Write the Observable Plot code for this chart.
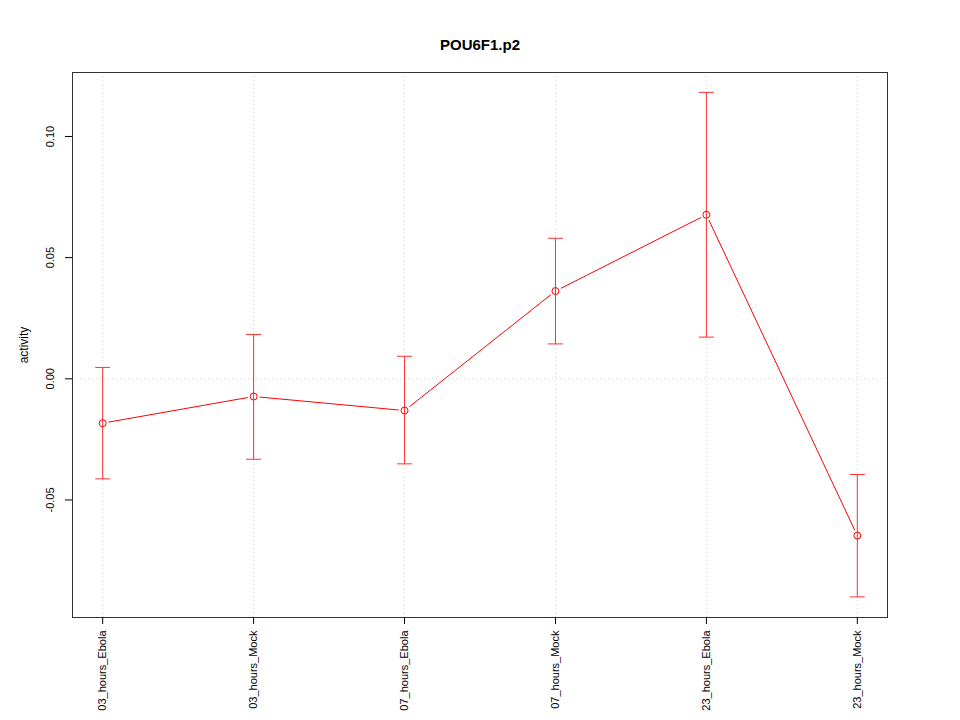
<!DOCTYPE html>
<html><head><meta charset="utf-8">
<script src="https://cdn.jsdelivr.net/npm/d3@7"></script>
<script src="https://cdn.jsdelivr.net/npm/@observablehq/plot@0.6"></script>
<style>body{margin:0;background:#fff}</style>
</head><body><div id="chart"></div>
<script>
const categories = ["03_hours_Ebola", "03_hours_Mock", "07_hours_Ebola", "07_hours_Mock", "23_hours_Ebola", "23_hours_Mock"];
const activity = [-0.0183, -0.0073, -0.0131, 0.0362, 0.0677, -0.0647];
const upper = [0.0047, 0.0183, 0.0093, 0.0580, 0.1182, -0.0395];
const lower = [-0.0413, -0.0332, -0.0351, 0.0144, 0.0172, -0.0900];
const yTicks = [-0.05, 0.00, 0.05, 0.10];
const title = "POU6F1.p2";
const yLabel = "activity";

const data = categories.map((c, i) => ({cat: c, y: activity[i], lo: lower[i], hi: upper[i]}));
const capSymbol = {draw(ctx) { ctx.moveTo(-7.5, 0); ctx.lineTo(7.5, 0); }};
const fmt = d => d.toFixed(2);

const chart = Plot.plot({
  width: 960, height: 720,
  marginLeft: 72, marginRight: 73, marginTop: 72, marginBottom: 103,
  style: {fontFamily: "'Liberation Sans', Arial, sans-serif", fontSize: "12px", background: "white", color: "black"},
  x: {type: "point", domain: categories, padding: 0.2, round: false, label: null},
  y: {domain: [-0.0985, 0.1264], label: null},
  marks: [
    Plot.ruleX(categories, {x: d => d, stroke: "#d3d3d3", strokeDasharray: "1,3"}),
    Plot.ruleY([0], {stroke: "#d3d3d3", strokeDasharray: "1,3"}),
    Plot.line(data, {x: "cat", y: "y", stroke: "red", strokeWidth: 1}),
    Plot.dot(data, {x: "cat", y: "y", r: 6, fill: "white"}),
    Plot.link(data, {x1: "cat", x2: "cat", y1: "lo", y2: "hi", stroke: "#ff3030", strokeWidth: 1}),
    Plot.dot(data, {x: "cat", y: "hi", symbol: capSymbol, stroke: "#ff3030", fill: "none", strokeWidth: 1}),
    Plot.dot(data, {x: "cat", y: "lo", symbol: capSymbol, stroke: "#ff3030", fill: "none", strokeWidth: 1}),
    Plot.dot(data, {x: "cat", y: "y", r: 3.5, stroke: "red", fill: "none", strokeWidth: 1}),
    Plot.frame({stroke: "#333"}),
    Plot.axisX({tickSize: 7, tickFormat: () => "", label: null}),
    Plot.text(categories, {x: d => d, text: d => d, frameAnchor: "bottom", dy: 13, rotate: -90, textAnchor: "end", lineAnchor: "middle", fontSize: 11}),
    Plot.axisY(yTicks, {tickSize: 7, tickFormat: () => "", label: null}),
    Plot.text(yTicks, {y: d => d, text: fmt, frameAnchor: "left", dx: -22, rotate: -90, textAnchor: "middle", lineAnchor: "middle", fontSize: 11}),
    Plot.text([yLabel], {frameAnchor: "left", dx: -48, rotate: -90, textAnchor: "middle", lineAnchor: "middle", fontSize: 12}),
    Plot.text([title], {frameAnchor: "top", dy: -27, fontWeight: "bold", fontSize: 15, lineAnchor: "middle"})
  ]
});
document.getElementById("chart").appendChild(chart);
</script>
</body></html>
